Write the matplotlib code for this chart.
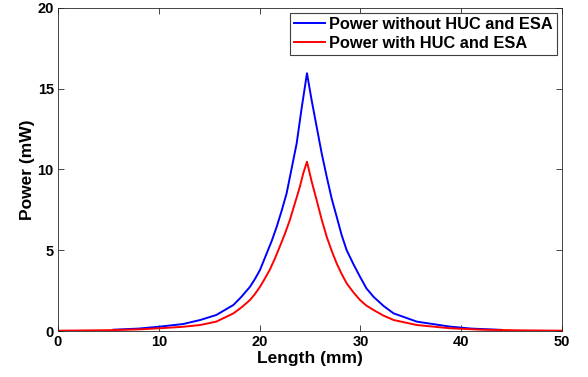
import matplotlib
matplotlib.use('Agg')
import matplotlib.pyplot as plt

# Power along the fibre
x_blue = [5.5, 8.0, 10.1, 12.4, 14.1, 15.7, 17.4, 18.2, 19.05, 19.54, 20.04, 20.7, 21.2, 21.7,
          22.19, 22.68, 23.18, 23.68, 24.17, 24.7, 25.16, 25.66, 26.16, 26.66, 27.15, 27.65,
          28.14, 28.64, 29.3, 29.96, 30.6, 31.3, 32.3, 33.3, 35.6, 38.9, 41.0, 44.0]
p_blue = [0.08, 0.15, 0.27, 0.43, 0.68, 0.99, 1.61, 2.12, 2.74, 3.22, 3.78, 4.8, 5.57, 6.46,
          7.45, 8.52, 10.07, 11.62, 13.79, 15.96, 14.3, 12.65, 11.0, 9.55, 8.2, 7.07,
          5.94, 5.0, 4.15, 3.36, 2.64, 2.12, 1.55, 1.09, 0.58, 0.27, 0.15, 0.07]

x_red = [0, 5, 8, 10.1, 12.4, 14.1, 15.7, 17.4, 18.2, 19.05, 19.54, 20.04, 20.5, 21.0, 21.5,
         22.0, 22.5, 23.0, 23.5, 24.0, 24.33, 24.7, 25.16, 25.66, 26.16, 26.66, 27.15, 27.65,
         28.14, 28.64, 29.3, 29.96, 30.6, 31.3, 32.3, 33.3, 35.6, 38.9, 42, 46, 50]
p_red = [0.02, 0.05, 0.1, 0.17, 0.26, 0.37, 0.58, 1.09, 1.46, 1.92, 2.29, 2.74, 3.22, 3.78, 4.46,
         5.22, 6.0, 6.87, 7.9, 8.94, 9.76, 10.48, 9.27, 8.1, 6.9, 5.83, 4.97, 4.18,
         3.53, 2.95, 2.4, 1.92, 1.57, 1.3, 0.95, 0.68, 0.37, 0.17, 0.08, 0.04, 0.02]

plt.rcParams['font.family'] = ['Liberation Sans', 'DejaVu Sans']
plt.rcParams['font.weight'] = 'bold'

fig = plt.figure(figsize=(5.88, 3.77), dpi=100)
ax = fig.add_axes([0.0986, 0.122, 0.8572, 0.8568])

ax.plot(x_blue, p_blue, color='#0000ff', lw=1.4, label='Power without HUC and ESA')
ax.plot(x_red, p_red, color='#ff0000', lw=1.4, label='Power with HUC and ESA')

ax.set_xlim(0, 50)
ax.set_ylim(0, 20)
ax.set_xticks(range(0, 51, 10))
ax.set_yticks(range(0, 21, 5))
ax.tick_params(direction='in', length=4, width=0.6, top=True, right=True,
               labelsize=10.5, pad=3, colors='#262626', labelcolor='black')
for s in ax.spines.values():
    s.set_linewidth(0.6)
    s.set_color('#262626')

ax.set_xlabel('Length (mm)', fontsize=12.5, fontweight='bold', labelpad=1)
ax.set_ylabel('Power (mW)', fontsize=12.5, fontweight='bold', labelpad=2)

leg = ax.legend(loc='upper right', fontsize=11.8, fancybox=False, framealpha=1,
                edgecolor='#404040', borderpad=0.25, labelspacing=0.25,
                handlelength=1.9, handletextpad=0.25, borderaxespad=0.3)
leg.get_frame().set_linewidth(0.8)

fig.savefig('out.png', dpi=100)
